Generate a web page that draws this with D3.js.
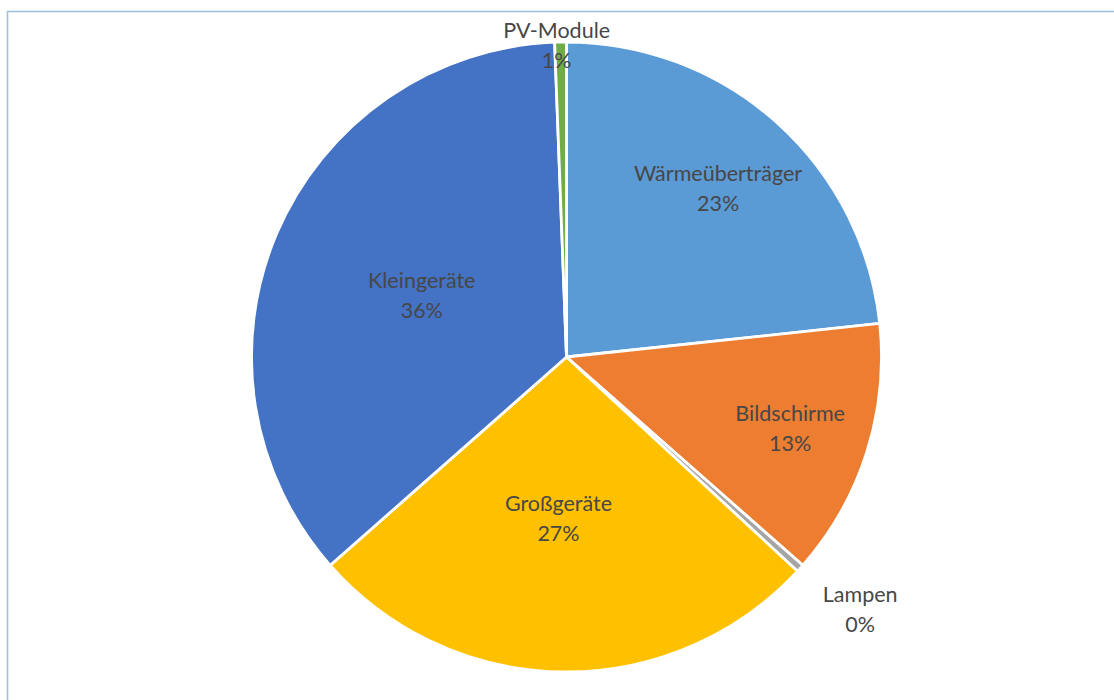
<!DOCTYPE html>
<html>
<head>
<meta charset="utf-8">
<script src="https://cdn.jsdelivr.net/npm/d3@7"></script>
<style>
  html, body { margin: 0; padding: 0; background: #ffffff; }
  svg { display: block; }
</style>
</head>
<body>
<svg id="chart" width="1114" height="700"></svg>
<script>
// ---- data ----
const categories = ["Wärmeüberträger", "Bildschirme", "Lampen", "Großgeräte", "Kleingeräte", "PV-Module"];
const shares = [23.3, 13.2, 0.4, 26.6, 35.9, 0.6];
const colors = ["#5B9BD5", "#ED7D31", "#A5A5A5", "#FFC000", "#4472C4", "#70AD47"];

// ---- layout ----
const W = 1114, H = 700;
const cx = 566.5, cy = 357, R = 315;
// label distance from center, as fraction of radius (Excel best-fit placement)
const labelRadius = [0.72, 0.745, 1.21, 0.51, 0.50, 0.99];
const labelShiftX = [0, 0, 11, -6, 0, -4];
const labelShiftY = [0, 0, -4, 0, 0, 0];

const svg = d3.select("#chart");

// frame border
svg.append("rect")
  .attr("x", 7.5).attr("y", 11.5)
  .attr("width", W + 20).attr("height", H + 20)
  .attr("fill", "none")
  .attr("stroke", "#9fc3df")
  .attr("stroke-width", 1.6);

const data = categories.map((c, i) => ({ name: c, value: shares[i], color: colors[i], lr: labelRadius[i], dx: labelShiftX[i], dy: labelShiftY[i] }));
const total = d3.sum(shares);

const pie = d3.pie().value(d => d.value).sort(null);
const arcs = pie(data);
const arc = d3.arc().innerRadius(0).outerRadius(R);

const g = svg.append("g").attr("transform", `translate(${cx},${cy})`);

g.selectAll("path.slice")
  .data(arcs)
  .join("path")
  .attr("class", "slice")
  .attr("d", arc)
  .attr("fill", d => d.data.color)
  .attr("stroke", "#ffffff")
  .attr("stroke-width", 2.8)
  .attr("stroke-linejoin", "round");

const pct = d3.format(".0f");
const labels = g.selectAll("g.lbl")
  .data(arcs)
  .join("g")
  .attr("class", "lbl")
  .attr("transform", d => {
    const a = (d.startAngle + d.endAngle) / 2;
    const r = R * d.data.lr;
    return `translate(${Math.sin(a) * r + d.data.dx},${-Math.cos(a) * r + d.data.dy})`;
  });

const font = "Lato, 'Open Sans', sans-serif";
labels.append("text")
  .attr("text-anchor", "middle")
  .attr("y", -7)
  .attr("font-family", font)
  .attr("font-size", 21.5)
  .attr("fill", "#474747")
  .text(d => d.data.name);

labels.append("text")
  .attr("text-anchor", "middle")
  .attr("y", 23)
  .attr("font-family", font)
  .attr("font-size", 21.5)
  .attr("fill", "#474747")
  .text(d => pct(d.data.value / total * 100) + "%");
</script>
</body>
</html>
